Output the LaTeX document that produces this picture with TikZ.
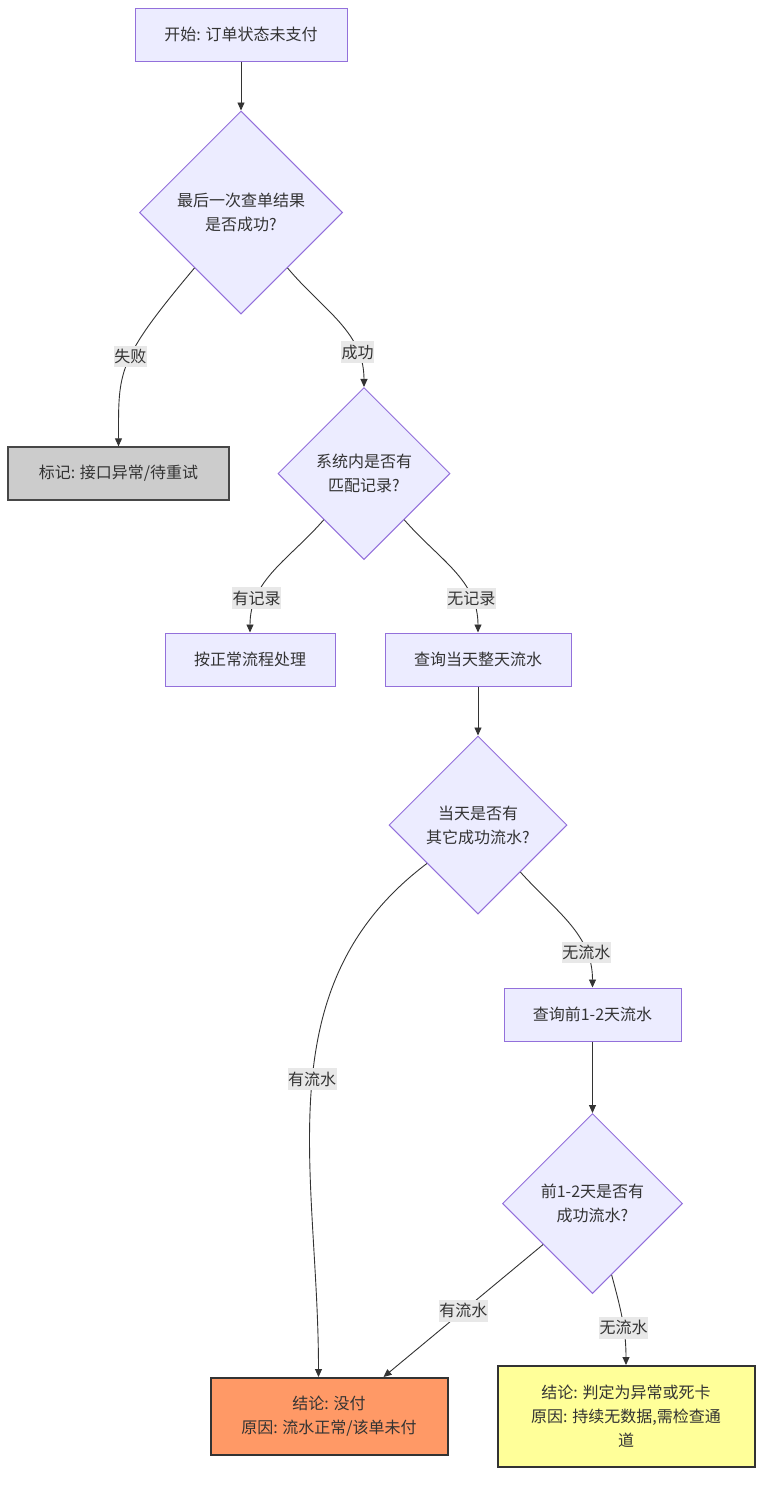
\documentclass[tikz,border=0pt]{standalone}
\usepackage{fontspec}
\setmainfont{Noto Sans CJK SC}
\usetikzlibrary {positioning}
\usetikzlibrary {arrows.meta,shapes.geometric,positioning}
\definecolor{boxfill}{HTML}{ECECFF}
\definecolor{boxline}{HTML}{9370DB}
\definecolor{lblfill}{HTML}{E8E8E8}
\definecolor{ink}{HTML}{333333}
\definecolor{failfill}{HTML}{CCCCCC}
\definecolor{paidfill}{HTML}{FF9966}
\definecolor{deadfill}{HTML}{FFFF99}

\begin{document}
\begin{tikzpicture}[->,>={Triangle[length=8pt,width=7pt]},color=ink,line width=0.9pt,on grid,node distance=180pt,
every node/.style={font=\fontsize{16pt}{24pt}\selectfont,text=ink},
box/.style={rectangle,draw=boxline,fill=boxfill,minimum height=53pt,inner sep=0pt,line width=1pt},
ask/.style={diamond,draw=boxline,fill=boxfill,align=center,inner sep=0pt,line width=1pt},
endbox/.style={rectangle,draw=ink,line width=2pt,align=center,inner sep=0pt},
lbl/.style={fill=lblfill,inner xsep=0.5pt,inner ysep=3.5pt}]
\useasboundingbox (0,0) rectangle (771pt,-1491pt);
\node[box,minimum width=212pt] (start) at (241pt,-34.5pt) {开始: 订单状态未支付};
\node[ask,minimum size=203pt] (ok) [below=178pt of start] {最后一次查单结果\\是否成功?};
\node[box,fill=failfill,draw=ink!90,line width=1.3pt,minimum width=221pt] (retry) [below left=261pt and 122.5pt of ok] {标记: 接口异常/待重试};
\node[ask,minimum size=172pt] (match) [below right=261pt and 123pt of ok] {系统内是否有\\匹配记录?};
\node[box,minimum width=170pt] (normal) [below left=186pt and 114pt of match] {按正常流程处理};
\node[box,minimum width=186pt] (today) [below right=186pt and 114pt of match] {查询当天整天流水};
\node[ask,minimum size=178pt] (flow) [below=165.5pt of today] {当天是否有\\其它成功流水?};
\node[box,minimum width=177pt] (prev) [below right=189.5pt and 114.5pt of flow] {查询前1-2天流水};
\node[ask,minimum size=180pt] (prevflow) [below=189pt of prev] {前1-2天是否有\\成功流水?};
\node[endbox,fill=paidfill,minimum width=237pt,minimum height=77pt] (unpaid) [below left=213pt and 263.5pt of prevflow] {结论: 没付\\原因: 流水正常/该单未付};
\node[endbox,fill=deadfill,minimum width=257pt,minimum height=101pt] (stuck) [below right=213pt and 33.5pt of prevflow] {结论: 判定为异常或死卡\\原因: 持续无数据,需检查通\\道};
\coordinate (unpaidL) at ([xshift=-10.5pt]unpaid.north);
\coordinate (unpaidR) at ([xshift=54.5pt]unpaid.north);

\path (start) edge (ok)
      (ok) edge [out=-130,in=90,out looseness=1.6] node[lbl,pos=0.45]{失败} (retry)
      (ok) edge [out=-50,in=90] node[lbl,pos=0.76]{成功} (match)
      (match) edge [out=-131,in=90] node[lbl,pos=0.75]{有记录} (normal)
      (match) edge [out=-49,in=90] node[lbl,pos=0.75]{无记录} (today)
      (today) edge (flow)
      (flow) edge [out=-143,in=90] node[lbl,pos=0.48]{有流水} (unpaidL)
      (flow) edge [out=-48,in=90] node[lbl,pos=0.75]{无流水} (prev)
      (prev) edge (prevflow)
      (prevflow) edge node[lbl,pos=0.5]{有流水} (unpaidR)
      (prevflow) edge [out=-75,in=90] node[lbl,pos=0.6]{无流水} (stuck);

\end{tikzpicture}
\end{document}
